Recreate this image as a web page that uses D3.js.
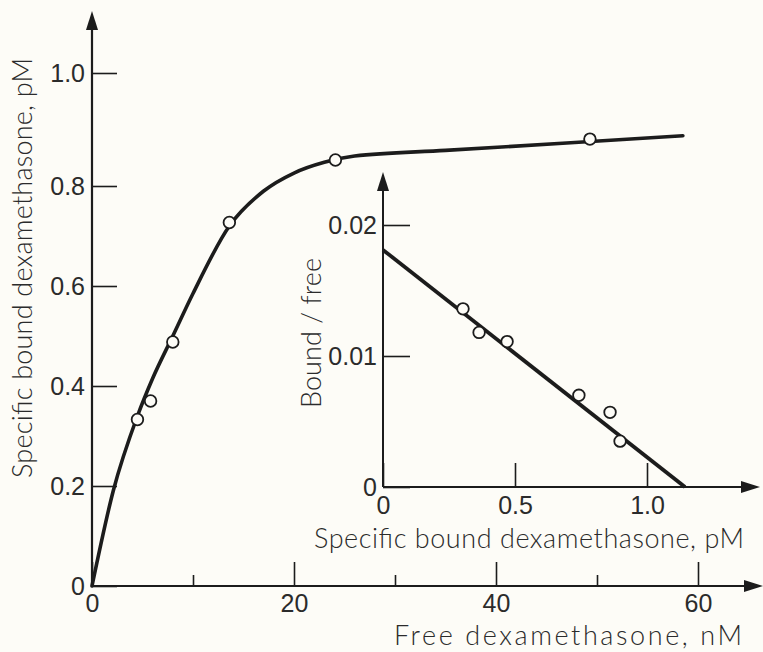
<!DOCTYPE html>
<html>
<head>
<meta charset="utf-8">
<script src="https://cdn.jsdelivr.net/npm/d3@7"></script>
<style>
  body { margin: 0; background: #fdfcf7; }
  svg { display: block; font-family: Lato, "DejaVu Sans", sans-serif; font-weight: 300; }
  .tick line { stroke: #1c1c1c; stroke-width: 1.6; }
  .tick text { fill: #2b2b2b; font-size: 25px; }
  .lbl { fill: #2b2b2b; font-size: 27px; }
</style>
</head>
<body>
<svg id="chart" width="763" height="652"></svg>
<script>
// main plot: free dexamethasone (nM) vs specific bound (pM)
var freeConc = [4.5, 5.8, 8.0, 13.6, 24.1, 49.3];
var boundMain = [0.333, 0.37, 0.488, 0.727, 0.846, 0.883];
// hand drawn fit
var fitFree = [0, 2.1, 4.5, 6, 8, 10, 13.6, 17, 20, 23, 26, 35, 47, 58.5];
var fitBound = [0, 0.19, 0.34, 0.415, 0.5, 0.585, 0.72, 0.79, 0.823, 0.842, 0.853, 0.863, 0.876, 0.889];
var mainXTicks = [0, 20, 40, 60];
var mainXMinor = [10, 30, 50];
var mainYTicks = [0, 0.2, 0.4, 0.6, 0.8, 1.0];

// inset: bound/free vs specific bound
var scBound = [0.303, 0.364, 0.47, 0.742, 0.86, 0.898];
var scRatio = [0.0136, 0.0118, 0.0111, 0.0070, 0.0057, 0.0035];
var scLineX = [0, 1.144];
var scLineY = [0.0181, 0];
var insetXTicks = [0, 0.5, 1.0];
var insetYTicks = [0, 0.01, 0.02];

var ink = "#1c1c1c";
var svg = d3.select("#chart");

var x = d3.scaleLinear().domain([0, 60]).range([92, 698]);
var y = d3.scaleLinear().domain([0, 0.8, 1.0]).range([586, 186, 73]);

var xi = d3.scaleLinear().domain([0, 1]).range([383, 647]);
var yi = d3.scaleLinear().domain([0, 0.02]).range([487, 225]);

function arrowUp(g, cx, tip) {
  g.append("path")
    .attr("d", "M" + cx + "," + tip + "L" + (cx - 6) + "," + (tip + 19) + "L" + (cx + 6) + "," + (tip + 19) + "Z")
    .attr("fill", ink);
}
function arrowRight(g, cy, tip) {
  g.append("path")
    .attr("d", "M" + tip + "," + cy + "L" + (tip - 19) + "," + (cy - 6) + "L" + (tip - 19) + "," + (cy + 6) + "Z")
    .attr("fill", ink);
}

// main axes
svg.append("line").attr("x1", x(0)).attr("x2", 745).attr("y1", y(0)).attr("y2", y(0))
  .attr("stroke", ink).attr("stroke-width", 2.2);
svg.append("line").attr("x1", x(0)).attr("x2", x(0)).attr("y1", y(0)).attr("y2", 28)
  .attr("stroke", ink).attr("stroke-width", 2.2);
arrowUp(svg, x(0), 11);
arrowRight(svg, y(0), 763);

var fmt1 = function(d) { return d === 0 ? "0" : d3.format(".1f")(d); };

var gx = svg.append("g").attr("transform", "translate(0," + y(0) + ")")
  .call(d3.axisBottom(x).tickValues(mainXTicks).tickSize(-24).tickPadding(8).tickFormat(d3.format("d")));
gx.select(".domain").remove();
var gxm = svg.append("g").attr("transform", "translate(0," + y(0) + ")")
  .call(d3.axisBottom(x).tickValues(mainXMinor).tickSize(-11).tickFormat(""));
gxm.select(".domain").remove();

var gy = svg.append("g").attr("transform", "translate(" + x(0) + ",0)")
  .call(d3.axisLeft(y).tickValues(mainYTicks).tickSize(-25).tickPadding(7).tickFormat(fmt1));
gy.select(".domain").remove();
gy.selectAll(".tick text").attr("dy", "0.35em");

// main fit curve
var fitPts = fitFree.map(function(d, i) { return [d, fitBound[i]]; });
svg.append("path")
  .datum(fitPts)
  .attr("fill", "none")
  .attr("stroke", ink)
  .attr("stroke-width", 3.6)
  .attr("stroke-linecap", "round")
  .attr("d", d3.line().x(function(d) { return x(d[0]); }).y(function(d) { return y(d[1]); })
    .curve(d3.curveMonotoneX));

svg.append("g").selectAll("circle")
  .data(freeConc)
  .enter().append("circle")
  .attr("cx", function(d) { return x(d); })
  .attr("cy", function(d, i) { return y(boundMain[i]); })
  .attr("r", 5.8)
  .attr("fill", "#fdfcf7")
  .attr("stroke", ink)
  .attr("stroke-width", 1.8);

// inset axes
svg.append("line").attr("x1", xi(0)).attr("x2", 743).attr("y1", yi(0)).attr("y2", yi(0))
  .attr("stroke", ink).attr("stroke-width", 2);
svg.append("line").attr("x1", xi(0)).attr("x2", xi(0)).attr("y1", yi(0)).attr("y2", 189)
  .attr("stroke", ink).attr("stroke-width", 2);
arrowUp(svg, xi(0), 172);
arrowRight(svg, yi(0), 760);

var gxi = svg.append("g").attr("transform", "translate(0," + yi(0) + ")")
  .call(d3.axisBottom(xi).tickValues(insetXTicks).tickSize(-24).tickPadding(9).tickFormat(fmt1));
gxi.select(".domain").remove();

var gyi = svg.append("g").attr("transform", "translate(" + xi(0) + ",0)")
  .call(d3.axisLeft(yi).tickValues(insetYTicks).tickSize(-27).tickPadding(6)
    .tickFormat(function(d) { return d === 0 ? "0" : d3.format(".2f")(d); }));
gyi.select(".domain").remove();
gyi.selectAll(".tick text").attr("dy", "0.35em");

// inset line + points
svg.append("line")
  .attr("x1", xi(scLineX[0])).attr("y1", yi(scLineY[0]))
  .attr("x2", xi(scLineX[1])).attr("y2", yi(scLineY[1]))
  .attr("stroke", ink).attr("stroke-width", 3.8);

svg.append("g").selectAll("circle")
  .data(scBound)
  .enter().append("circle")
  .attr("cx", function(d) { return xi(d); })
  .attr("cy", function(d, i) { return yi(scRatio[i]); })
  .attr("r", 5.8)
  .attr("fill", "#fdfcf7")
  .attr("stroke", ink)
  .attr("stroke-width", 1.8);

// axis titles
svg.append("text").attr("class", "lbl")
  .attr("transform", "translate(32,268) rotate(-90)")
  .attr("text-anchor", "middle")
  .attr("textLength", 420).attr("lengthAdjust", "spacing")
  .text("Specific bound dexamethasone, pM");
svg.append("text").attr("class", "lbl")
  .attr("x", 568).attr("y", 645)
  .attr("text-anchor", "middle")
  .attr("textLength", 348).attr("lengthAdjust", "spacing")
  .text("Free dexamethasone, nM");
svg.append("text").attr("class", "lbl")
  .attr("transform", "translate(321,333) rotate(-90)")
  .attr("text-anchor", "middle")
  .attr("textLength", 150).attr("lengthAdjust", "spacing")
  .text("Bound / free");
svg.append("text").attr("class", "lbl")
  .attr("x", 529).attr("y", 548)
  .attr("text-anchor", "middle")
  .attr("textLength", 430).attr("lengthAdjust", "spacing")
  .text("Specific bound dexamethasone, pM");
</script>
</body>
</html>
